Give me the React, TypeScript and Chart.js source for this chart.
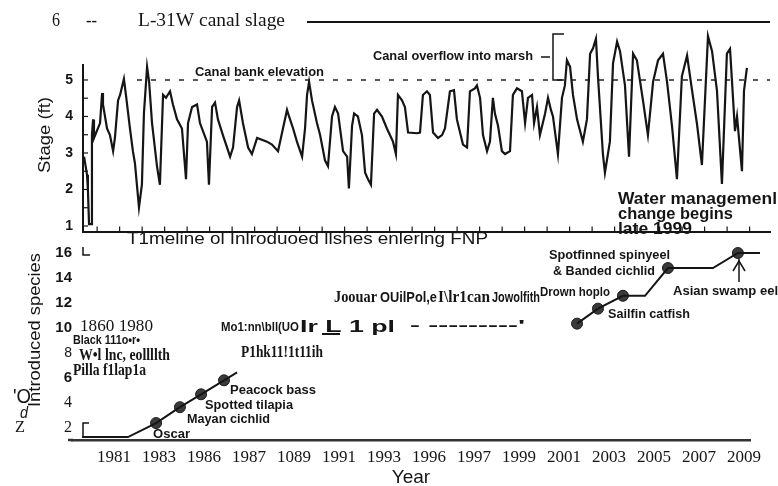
import React, { useEffect, useRef } from 'react';
import { Chart, registerables } from 'chart.js';

Chart.register(...registerables);
Chart.defaults.font.family = 'Liberation Sans';

// ---------- DATA ----------
const stageYears = [
  1979.67, 1979.8, 1979.84, 1979.89, 1979.98, 1980.02, 1980.07, 1980.11, 1980.38, 1980.47, 1980.51, 1980.69,
  1980.82, 1980.96, 1981.04, 1981.18, 1981.27, 1981.44, 1981.53, 1981.71, 1981.84, 1981.93, 1982.11, 1982.24,
  1982.33, 1982.47, 1982.56, 1982.69, 1982.91, 1983.04, 1983.18, 1983.31, 1983.49, 1983.62, 1983.8, 1984.02,
  1984.2, 1984.29, 1984.47, 1984.69, 1984.82, 1985.13, 1985.22, 1985.36, 1985.49, 1985.62, 1985.84, 1986.16,
  1986.29, 1986.47, 1986.56, 1986.73, 1986.96, 1987.13, 1987.36, 1987.8, 1988.02, 1988.29, 1988.51, 1988.69,
  1988.78, 1988.96, 1989.13, 1989.36, 1989.49, 1989.58, 1989.67, 1989.8, 1990.02, 1990.16, 1990.38, 1990.51,
  1990.69, 1990.82, 1990.96, 1991.18, 1991.36, 1991.44, 1991.58, 1991.67, 1991.84, 1992.02, 1992.16, 1992.29,
  1992.42, 1992.56, 1992.69, 1992.91, 1993.13, 1993.4, 1993.53, 1993.62, 1993.8, 1993.93, 1994.07, 1994.47,
  1994.6, 1994.73, 1994.91, 1995.04, 1995.18, 1995.4, 1995.58, 1995.71, 1995.93, 1996.11, 1996.24, 1996.51,
  1996.69, 1996.82, 1997.04, 1997.13, 1997.27, 1997.4, 1997.58, 1997.71, 1997.84, 1997.93, 1998.07, 1998.24,
  1998.38, 1998.6, 1998.73, 1998.91, 1999.13, 1999.27, 1999.4, 1999.58, 1999.67, 1999.8, 1999.93, 2000.16,
  2000.29, 2000.42, 2000.51, 2000.73, 2000.91, 2001.04, 2001.13, 2001.27, 2001.4, 2001.58, 2001.84, 2002.02,
  2002.16, 2002.29, 2002.42, 2002.51, 2002.73, 2002.82, 2003.04, 2003.18, 2003.36, 2003.49, 2003.71, 2003.89,
  2004.07, 2004.24, 2004.51, 2004.73, 2004.96, 2005.18, 2005.4, 2005.58, 2005.8, 2006.02, 2006.24, 2006.47,
  2006.69, 2006.91, 2007.13, 2007.4, 2007.58, 2007.8, 2008.02, 2008.24, 2008.38, 2008.6, 2008.69, 2008.91,
  2009.0, 2009.13,
];
const stageValues = [
  2.9, 2.4, 2.0, 1.05, 1.05, 3.5, 3.92, 3.41, 3.82, 4.64, 4.33, 3.67,
  3.49, 3.05, 3.41, 4.44, 4.59, 5.03, 4.59, 3.67, 3.05, 2.72, 1.51, 2.13,
  4.08, 5.36, 4.95, 3.82, 2.64, 2.13, 4.59, 4.51, 4.69, 4.33, 3.92, 3.67,
  2.28, 3.82, 4.26, 4.33, 3.82, 3.31, 2.13, 4.26, 4.38, 3.92, 3.49, 2.9,
  3.15, 4.26, 4.44, 3.82, 3.15, 2.97, 3.41, 3.31, 3.23, 3.05, 3.67, 4.18,
  4.0, 3.67, 3.31, 2.9, 3.67, 4.59, 4.95, 4.44, 3.82, 3.49, 2.79, 2.64,
  4.0, 4.26, 4.08, 3.05, 2.9, 2.03, 3.74, 4.08, 4.0, 3.49, 2.46, 2.28,
  2.13, 4.08, 4.18, 4.0, 3.67, 3.31, 2.97, 4.59, 4.44, 4.26, 3.56, 3.54,
  3.56, 4.59, 4.69, 4.59, 3.56, 3.41, 3.49, 3.67, 4.69, 4.72, 3.92, 3.23,
  3.15, 4.69, 4.77, 4.85, 4.51, 3.49, 3.05, 3.31, 4.51, 4.08, 3.74, 3.05,
  2.97, 3.05, 4.59, 4.77, 4.69, 3.82, 4.51, 4.59, 3.82, 4.26, 3.49, 4.08,
  4.51, 4.18, 4.0, 2.97, 4.51, 4.85, 5.54, 5.36, 4.59, 3.92, 3.31, 3.92,
  5.72, 5.87, 6.13, 5.1, 2.97, 2.46, 3.31, 5.46, 6.05, 5.79, 4.85, 2.9,
  5.72, 5.54, 4.44, 3.49, 4.95, 5.54, 5.72, 4.95, 3.74, 2.28, 5.1, 5.67,
  4.72, 3.8, 2.67, 6.2, 5.79, 4.7, 2.15, 5.72, 5.85, 3.6, 4.0, 2.5,
  4.7, 5.33,
];
const bankElevation = 5;
const bankLineYears = [1982.02, 2010.16];

const speciesEarlyYears = [1979.58, 1981.62, 1982.87, 1983.93, 1984.87, 1985.89, 1986.47];
const speciesEarlyCounts = [1.28, 1.28, 2.4, 3.67, 4.7, 5.82, 6.45];
const speciesLateYears = [2001.58, 2002.51, 2003.62, 2004.6, 2005.62, 2007.62, 2008.73, 2009.71];
const speciesLateCounts = [10.35, 11.55, 12.58, 12.58, 14.8, 14.8, 16.0, 16.0];
const markerYears = [1982.87, 1983.93, 1984.87, 1985.89, 2001.58, 2002.51, 2003.62, 2005.62, 2008.73];
const markerCounts = [2.4, 3.67, 4.7, 5.82, 10.35, 11.55, 12.58, 14.8, 16.0];

const stageTicks = [1, 2, 3, 4, 5];
const yearTickValues = [1981, 1983, 1985, 1987, 1989, 1991, 1993, 1995, 1997, 1999, 2001, 2003, 2005, 2007, 2009];
const yearTickLabels = ['1981', '1983', '1986', '1987', '1089', '1991', '1993', '1996', '1997', '1999', '2001', '2003', '2005', '2007', '2009'];
const speciesTickValues = [2, 4, 6, 8, 10, 12, 14, 16];
const speciesTickLabels = ['2', '4', '6', '8', '10', '12', '14', '16'];

// ---------- LAYOUT / TEXT ----------
const SANS = '"Liberation Sans"';
const SERIF = '"Liberation Serif"';
const INK = '#151515';

type Note = { text: string; x: number; y: number; font: string; w: number };

const topNotes: Note[] = [
  { text: '6', x: 52, y: 21, font: `18px ${SERIF}`, w: 8 },
  { text: '--', x: 86, y: 21, font: `18px ${SERIF}`, w: 11 },
  { text: 'L-31W canal slage', x: 138, y: 21, font: `18px ${SERIF}`, w: 147 },
  { text: 'Canal bank elevation', x: 195, y: 73, font: `bold 12px ${SANS}`, w: 129 },
  { text: 'Canal overflow into marsh', x: 373, y: 57, font: `bold 12px ${SANS}`, w: 160 },
  { text: 'Water managemenl', x: 618, y: 200, font: `bold 16px ${SANS}`, w: 159 },
  { text: 'change begins', x: 618, y: 215, font: `bold 16px ${SANS}`, w: 115 },
  { text: 'late 1999', x: 618, y: 230, font: `bold 16px ${SANS}`, w: 74 },
  { text: 'T1meline ol Inlroduoed llshes enlerlng FNP', x: 127, y: 239, font: `17px ${SANS}`, w: 361 },
];

const bottomNotes: Note[] = [
  { text: 'Oscar', x: 153, y: 435, font: `bold 12px ${SANS}`, w: 37 },
  { text: 'Mayan cichlid', x: 187, y: 420, font: `bold 12px ${SANS}`, w: 83 },
  { text: 'Spotted tilapia', x: 205, y: 406, font: `bold 12px ${SANS}`, w: 88 },
  { text: 'Peacock bass', x: 230, y: 391, font: `bold 12px ${SANS}`, w: 86 },
  { text: 'Spotfinned spinyeel', x: 549, y: 256, font: `bold 12px ${SANS}`, w: 121 },
  { text: '& Banded cichlid', x: 553, y: 272, font: `bold 12px ${SANS}`, w: 102 },
  { text: 'Drown hoplo', x: 540, y: 293, font: `bold 12px ${SANS}`, w: 70 },
  { text: 'Sailfin catfish', x: 608, y: 315, font: `bold 12px ${SANS}`, w: 82 },
  { text: 'Asian swamp eel', x: 673, y: 292, font: `bold 12px ${SANS}`, w: 105 },
  { text: '1860 1980', x: 80, y: 327, font: `17px ${SERIF}`, w: 73 },
  { text: 'Black 111o•r•', x: 73, y: 340, font: `bold 13px ${SANS}`, w: 67 },
  { text: 'W•l lnc, eollllth', x: 79, y: 356, font: `bold 16px ${SERIF}`, w: 91 },
  { text: 'Pilla f1lap1a', x: 73, y: 371, font: `bold 16px ${SERIF}`, w: 73 },
  { text: "'O", x: 13, y: 397, font: `20px ${SANS}`, w: 18 },
  { text: 'd', x: 20, y: 414, font: `italic 16px ${SANS}`, w: 8 },
  { text: 'Z', x: 15, y: 428, font: `16px ${SERIF}`, w: 10 },
  { text: 'Mo1:nn\\bll(UO', x: 221, y: 327, font: `bold 13px ${SANS}`, w: 78 },
  { text: 'Ir L 1 pl', x: 300, y: 327, font: `bold 17px ${SANS}`, w: 95 },
  { text: "- ---------'", x: 410, y: 326, font: `bold 14px ${SANS}`, w: 115 },
  { text: 'P1hk11!1t11ih', x: 241, y: 353, font: `bold 16px ${SERIF}`, w: 82 },
  { text: 'Joouar', x: 334, y: 298, font: `bold 16px ${SERIF}`, w: 43 },
  { text: 'OUilPol,e', x: 380, y: 298, font: `bold 14px ${SANS}`, w: 57 },
  { text: 'I\\lr1can', x: 438, y: 298, font: `bold 17px ${SERIF}`, w: 52 },
  { text: 'Jowolfith', x: 492, y: 298, font: `bold 14px ${SANS}`, w: 48 },
];

const BOTTOM_TOP = 236;

function drawFit(ctx: CanvasRenderingContext2D, n: Note, dy = 0) {
  ctx.save();
  ctx.font = n.font;
  ctx.fillStyle = INK;
  ctx.textAlign = 'left';
  ctx.textBaseline = 'middle';
  const w = ctx.measureText(n.text).width;
  ctx.translate(n.x, n.y - dy);
  if (w > 0) ctx.scale(n.w / w, 1);
  ctx.fillText(n.text, 0, 0);
  ctx.restore();
}

function drawRotated(ctx: CanvasRenderingContext2D, text: string, cx: number, cy: number, font: string, len: number) {
  ctx.save();
  ctx.translate(cx, cy);
  ctx.rotate(-Math.PI / 2);
  ctx.font = font;
  ctx.fillStyle = INK;
  ctx.textAlign = 'center';
  ctx.textBaseline = 'middle';
  const w = ctx.measureText(text).width;
  if (w > 0) ctx.scale(len / w, 1);
  ctx.fillText(text, 0, 0);
  ctx.restore();
}

function strokePath(ctx: CanvasRenderingContext2D, pts: number[][], width: number, dy = 0, color = INK) {
  ctx.save();
  ctx.strokeStyle = color;
  ctx.lineWidth = width;
  ctx.beginPath();
  pts.forEach((p, i) => (i === 0 ? ctx.moveTo(p[0], p[1] - dy) : ctx.lineTo(p[0], p[1] - dy)));
  ctx.stroke();
  ctx.restore();
}

const topPlugin = {
  id: 'topDecor',
  afterDraw(chart: any) {
    const ctx: CanvasRenderingContext2D = chart.ctx;
    const xs = chart.scales.x;
    const ys = chart.scales.y;
    const area = chart.chartArea;
    topNotes.forEach((n) => drawFit(ctx, n));
    drawRotated(ctx, 'Stage (ft)', 45, 135, `17px ${SANS}`, 76);
    strokePath(ctx, [[307, 22], [770, 22]], 2);
    strokePath(ctx, [[541, 57], [550, 57]], 1.5);
    strokePath(ctx, [[564, 34], [553, 34], [553, 80], [564, 80]], 1.5);
    for (let v = 1; v <= 5.001; v += 0.5) {
      const y = ys.getPixelForValue(v);
      strokePath(ctx, [[area.left, y], [area.left + 5, y]], 1.2);
    }
    for (let yr = 1980; yr <= 2009; yr++) {
      const x = xs.getPixelForValue(yr + 0.25);
      strokePath(ctx, [[x, area.bottom], [x, area.bottom - 5]], 1.2);
    }
  },
};

const bottomPlugin = {
  id: 'bottomDecor',
  afterDraw(chart: any) {
    const ctx: CanvasRenderingContext2D = chart.ctx;
    const d = BOTTOM_TOP;
    const area = chart.chartArea;
    bottomNotes.forEach((n) => drawFit(ctx, n, d));
    drawRotated(ctx, 'Introduced species', 35, 330 - d, `17px ${SANS}`, 154);
    strokePath(ctx, [[322, 334], [340, 334]], 2, d);
    strokePath(ctx, [[739, 259], [739, 282]], 1.5, d);
    strokePath(ctx, [[733, 271], [739, 261], [745, 271]], 1.5, d);
    strokePath(ctx, [[83, 247], [83, 255], [90, 255]], 1.5, d);
    strokePath(ctx, [[89, 423], [83, 423], [83, 437]], 1.5, d);
    // the year axis line starts a little left of the count labels
    strokePath(ctx, [[68, area.bottom + d], [area.left + 1, area.bottom + d]], 2.5, d, '#333');
  },
};

export default function App() {
  const topRef = useRef<HTMLCanvasElement>(null);
  const botRef = useRef<HTMLCanvasElement>(null);

  useEffect(() => {
    const top = new Chart(topRef.current as HTMLCanvasElement, {
      type: 'line',
      data: {
        datasets: [
          {
            data: stageYears.map((x, i) => ({ x, y: stageValues[i] })),
            borderColor: INK,
            borderWidth: 2.2,
            pointRadius: 0,
            tension: 0,
            clip: false,
          } as any,
          {
            data: bankLineYears.map((x) => ({ x, y: bankElevation })),
            borderColor: '#222',
            borderWidth: 1.5,
            borderDash: [5, 9],
            pointRadius: 0,
            clip: false,
          } as any,
        ],
      },
      options: {
        responsive: false,
        animation: false,
        devicePixelRatio: 1,
        layout: { padding: { top: 65, right: 8, bottom: 7, left: 0 } },
        plugins: { legend: { display: false }, tooltip: { enabled: false } },
        scales: {
          x: {
            type: 'linear',
            min: 1979.622,
            max: 2010.156,
            grid: { display: false, drawTicks: false },
            ticks: { display: false },
            border: { display: true, color: INK, width: 2 },
            afterFit: (s: any) => { s.height = 0; },
          },
          y: {
            type: 'linear',
            min: 0.846,
            max: 5.41,
            grid: { display: false, drawTicks: false },
            border: { display: true, color: INK, width: 2 },
            ticks: { padding: 10, color: INK, font: { family: 'Liberation Sans', size: 14, weight: 'bold' } },
            afterBuildTicks: (s: any) => { s.ticks = stageTicks.map((v) => ({ value: v })); },
            afterFit: (s: any) => { s.width = 83; },
          },
        },
      } as any,
      plugins: [topPlugin],
    });

    const bottom = new Chart(botRef.current as HTMLCanvasElement, {
      type: 'line',
      data: {
        datasets: [
          {
            data: speciesEarlyYears.map((x, i) => ({ x, y: speciesEarlyCounts[i] })),
            borderColor: INK,
            borderWidth: 2,
            pointRadius: 0,
            clip: false,
          } as any,
          {
            data: speciesLateYears.map((x, i) => ({ x, y: speciesLateCounts[i] })),
            borderColor: INK,
            borderWidth: 2,
            pointRadius: 0,
            clip: false,
          } as any,
          {
            data: markerYears.map((x, i) => ({ x, y: markerCounts[i] })),
            showLine: false,
            pointRadius: 5.5,
            pointBackgroundColor: '#3a3a3a',
            pointBorderColor: '#1c1c1c',
            pointBorderWidth: 1,
            clip: false,
          } as any,
        ],
      },
      options: {
        responsive: false,
        animation: false,
        devicePixelRatio: 1,
        layout: { padding: { top: 8, right: 28, bottom: 0, left: 0 } },
        plugins: { legend: { display: false }, tooltip: { enabled: false } },
        scales: {
          x: {
            type: 'linear',
            min: 1979.133,
            max: 2009.267,
            grid: { display: false, drawTicks: false },
            border: { display: true, color: '#333', width: 2.5 },
            ticks: {
              padding: 7,
              color: INK,
              autoSkip: false,
              maxRotation: 0,
              font: { family: 'Liberation Serif', size: 17 },
              callback: (v: any) => {
                const i = yearTickValues.indexOf(Number(v));
                return i >= 0 ? yearTickLabels[i] : '';
              },
            },
            afterBuildTicks: (s: any) => { s.ticks = yearTickValues.map((v) => ({ value: v })); },
            afterFit: (s: any) => { s.height = 46; },
            title: {
              display: true,
              text: 'Year',
              color: INK,
              font: { family: 'Liberation Sans', size: 19, lineHeight: 1 },
              padding: { top: 0, bottom: -1 },
            },
          },
          y: {
            type: 'linear',
            min: 1.044,
            max: 16.64,
            grid: { display: false, drawTicks: false },
            border: { display: false },
            ticks: {
              padding: 0,
              color: INK,
              font: (c: any) => {
                const v = c.tick ? c.tick.value : 0;
                if (v <= 4) return { family: 'Liberation Serif', size: 16, weight: 'normal' };
                if (v === 8) return { family: 'Liberation Sans', size: 14, weight: 'normal' };
                return { family: 'Liberation Sans', size: 15, weight: 'bold' };
              },
              callback: (v: any) => {
                const i = speciesTickValues.indexOf(Number(v));
                return i >= 0 ? speciesTickLabels[i] : '';
              },
            },
            afterBuildTicks: (s: any) => { s.ticks = speciesTickValues.map((v) => ({ value: v })); },
            afterFit: (s: any) => { s.width = 72; },
          },
        },
      } as any,
      plugins: [bottomPlugin],
    });

    return () => {
      top.destroy();
      bottom.destroy();
    };
  }, []);

  return (
    <div style={{ position: 'absolute', left: 0, top: 0, width: 778, height: 486, background: '#fff', overflow: 'hidden' }}>
      <canvas ref={topRef} width={778} height={250} style={{ position: 'absolute', left: 0, top: 0, width: 778, height: 250 }} />
      <canvas ref={botRef} width={778} height={250} style={{ position: 'absolute', left: 0, top: BOTTOM_TOP, width: 778, height: 250 }} />
    </div>
  );
}
